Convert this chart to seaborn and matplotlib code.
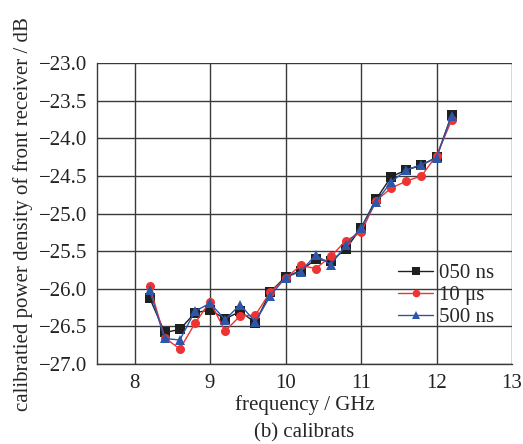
import numpy as np
import pandas as pd
import matplotlib
matplotlib.use('Agg')
import matplotlib.pyplot as plt
from matplotlib.ticker import MultipleLocator, FuncFormatter
from matplotlib.lines import Line2D
import seaborn as sns

# ── data ─────────────────────────────────────────────────────────────────────
freq = [8.2, 8.4, 8.6, 8.8, 9.0, 9.2, 9.4, 9.6, 9.8, 10.0, 10.2,
        10.4, 10.6, 10.8, 11.0, 11.2, 11.4, 11.6, 11.8, 12.0, 12.2]

p_050ns = [-26.12, -26.58, -26.54, -26.32, -26.28, -26.40, -26.30, -26.45, -26.04, -25.84, -25.76,
           -25.61, -25.63, -25.47, -25.19, -24.81, -24.51, -24.42, -24.36, -24.25, -23.69]
p_10us  = [-25.96, -26.65, -26.80, -26.46, -26.17, -26.56, -26.36, -26.35, -26.04, -25.86, -25.69,
           -25.73, -25.57, -25.36, -25.25, -24.83, -24.66, -24.57, -24.50, -24.23, -23.76]
p_500ns = [-26.02, -26.66, -26.68, -26.30, -26.19, -26.41, -26.21, -26.44, -26.09, -25.85, -25.77,
           -25.55, -25.68, -25.42, -25.19, -24.84, -24.58, -24.42, -24.35, -24.26, -23.70]

labels = ['050 ns', '10 μs', '500 ns']
colors = ['#1f1f1f', '#ee3333', '#2d56a8']
marks  = ['s', 'o', '^']

df = pd.concat([
    pd.DataFrame({'freq': freq, 'power': vals, 'series': lab})
    for lab, vals in zip(labels, [p_050ns, p_10us, p_500ns])
], ignore_index=True)

sns.set_style('white')
plt.rcParams['font.family'] = ['Liberation Serif', 'DejaVu Serif']
FS = 15

fig = plt.figure(figsize=(5.23, 4.44), dpi=100)
ax = fig.add_axes([0.185, 0.180, 0.794, 0.678])

sns.lineplot(data=df, x='freq', y='power', hue='series', style='series',
             hue_order=labels, style_order=labels,
             palette=dict(zip(labels, colors)),
             markers=dict(zip(labels, marks)), dashes=False,
             markersize=6.5, markeredgewidth=0, linewidth=1.0,
             legend=False, ax=ax)

ax.set_xlim(7.5, 13)
ax.set_ylim(-27, -23)
ax.xaxis.set_major_locator(MultipleLocator(1))
ax.xaxis.set_minor_locator(MultipleLocator(0.5))
ax.yaxis.set_major_locator(MultipleLocator(0.5))
ax.yaxis.set_minor_locator(MultipleLocator(0.25))
ax.yaxis.set_major_formatter(FuncFormatter(lambda v, p: f'{v:.1f}'.replace('-', '\u2212')))

ax.grid(True, which='major', color='#3a3a3a', linewidth=1.0)
ax.set_axisbelow(True)
for s in ['top', 'right']:
    ax.spines[s].set_visible(False)
for s in ['left', 'bottom']:
    ax.spines[s].set_color('#3a3a3a')
    ax.spines[s].set_linewidth(1.0)

ax.tick_params(which='both', direction='in', colors='#3a3a3a', labelcolor='#222222',
               labelsize=FS, pad=7)
ax.tick_params(which='major', length=0)
ax.tick_params(which='minor', length=3, width=0.8)

ax.set_xlabel('frequency / GHz', fontsize=FS, labelpad=2)
ax.set_ylabel('calibratied power density of front receiver / dB', fontsize=FS, labelpad=4)
fig.text(0.582, 0.004, '(b) calibrats', ha='center', va='bottom', fontsize=FS)

handles = [Line2D([], [], color=c, marker=m, markersize=5.5, markeredgewidth=0, linewidth=1.0)
           for c, m in zip(colors, marks)]
ax.legend(handles, labels, loc='upper left', bbox_to_anchor=(0.725, 0.335), frameon=False,
          fontsize=FS, handlelength=1.7, handletextpad=0.3,
          labelspacing=0.12, borderaxespad=0, borderpad=0)

fig.savefig('out.png', dpi=100)
